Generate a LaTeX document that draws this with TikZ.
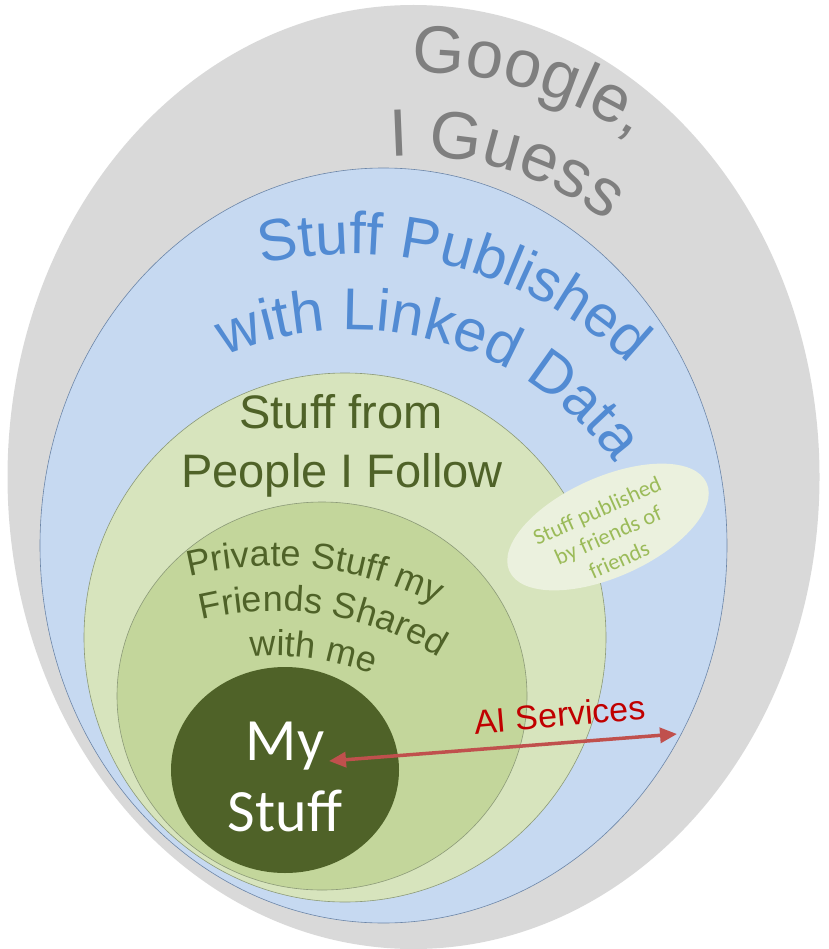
\documentclass[tikz,border=0pt]{standalone}
\usepackage{fontspec}
\setmainfont{Liberation Sans}
\newfontfamily\calibrifont{Carlito}
\usetikzlibrary{decorations.text,arrows.meta}
\definecolor{googlefill}{HTML}{D9D9D9}
\definecolor{ldfill}{HTML}{C6D9F1}
\definecolor{followfill}{HTML}{D7E4BD}
\definecolor{privfill}{HTML}{C3D69B}
\definecolor{myfill}{HTML}{4F6228}
\definecolor{foffill}{HTML}{EBF1DE}
\definecolor{googletext}{HTML}{7F7F7F}
\definecolor{ldtext}{HTML}{528BD3}
\definecolor{greentext}{HTML}{4F6228}
\definecolor{foftext}{HTML}{9BBB59}
\definecolor{aitext}{HTML}{C00000}
\definecolor{aiarrow}{HTML}{C0504D}
\definecolor{ldline}{HTML}{6C86A8}
\definecolor{greenline}{HTML}{8C9A78}
% cx, cy, radius, mid angle, colour, size, text
\newcommand\arclabel[7]{%
  \path[decorate,decoration={text along path,text align=center,text color=#5,
    text={|\fontsize{#6}{#6}\selectfont|#7}}]
    ([shift={(#1,#2)}]#4+50:#3pt) arc[start angle={#4+50},end angle={#4-50},radius=#3pt];}
\tikzset{
  ringline/.style={line width=0.6pt},
  flatlabel/.style={anchor=base,inner sep=0pt},
}
\begin{document}
\begin{tikzpicture}[x=1pt,y=-1pt]
\useasboundingbox (0,0) rectangle (828,949);
% regions
\fill[googlefill] (413.5,477) ellipse[x radius=406pt,y radius=472pt];
\filldraw[fill=ldfill,draw=ldline,ringline] (383.5,545.5) ellipse[x radius=343.5pt,y radius=377.5pt];
\filldraw[fill=followfill,draw=greenline,ringline] (345,637.5) ellipse[x radius=261pt,y radius=264.5pt];
\filldraw[fill=privfill,draw=greenline,ringline] (322,696) ellipse[x radius=205pt,y radius=194pt];
\fill[myfill] (285,770) ellipse[x radius=114pt,y radius=103pt];
\fill[foffill,rotate around={24:(608,527)}] (608,527) ellipse[x radius=108pt,y radius=50pt];
% curved labels
\arclabel{412.5}{477}{405}{73.5}{googletext}{67}{Google,}
\arclabel{412.5}{477}{321}{73.4}{googletext}{67}{I Guess}
\arclabel{352}{656}{402}{74.7}{ldtext}{59}{Stuff Published}
\arclabel{352}{656}{326}{74.6}{ldtext}{59}{with Linked Data}
\arclabel{275}{923}{357}{83.5}{greentext}{36}{Private Stuff my}
\arclabel{275}{923}{312}{81}{greentext}{36}{Friends Shared}
\arclabel{275}{923}{267}{82}{greentext}{36}{with me}
% straight labels
\node[flatlabel,text=greentext,font=\fontsize{47}{47}\selectfont] (follow1) at (341,428) {Stuff from};
\node[flatlabel,text=greentext,font=\fontsize{47}{47}\selectfont] (follow2) at (342,487) {People I Follow};
\node[flatlabel,text=white,font=\calibrifont\fontsize{60}{60}\selectfont] (my1) at (285,760) {My};
\node[flatlabel,text=white,font=\calibrifont\fontsize{60}{60}\selectfont] (my2) at (285,831) {Stuff};
\node[rotate=24,align=center,inner sep=0pt,text=foftext,font=\calibrifont\fontsize{22.5}{27}\selectfont] (fof) at (608,535) {Stuff published\\by friends of\\friends};
% AI services arrow
\coordinate (arrL) at (329,761);
\coordinate (arrR) at (677,734);
\draw[aiarrow,line width=3.5pt,{Triangle[length=17pt,width=15pt]}-{Triangle[length=17pt,width=15pt]}] (arrL) -- (arrR);
\node[flatlabel,rotate=5,text=aitext,font=\fontsize{34}{34}\selectfont] (ai) at (561,726.5) {AI Services};
\end{tikzpicture}
\end{document}
